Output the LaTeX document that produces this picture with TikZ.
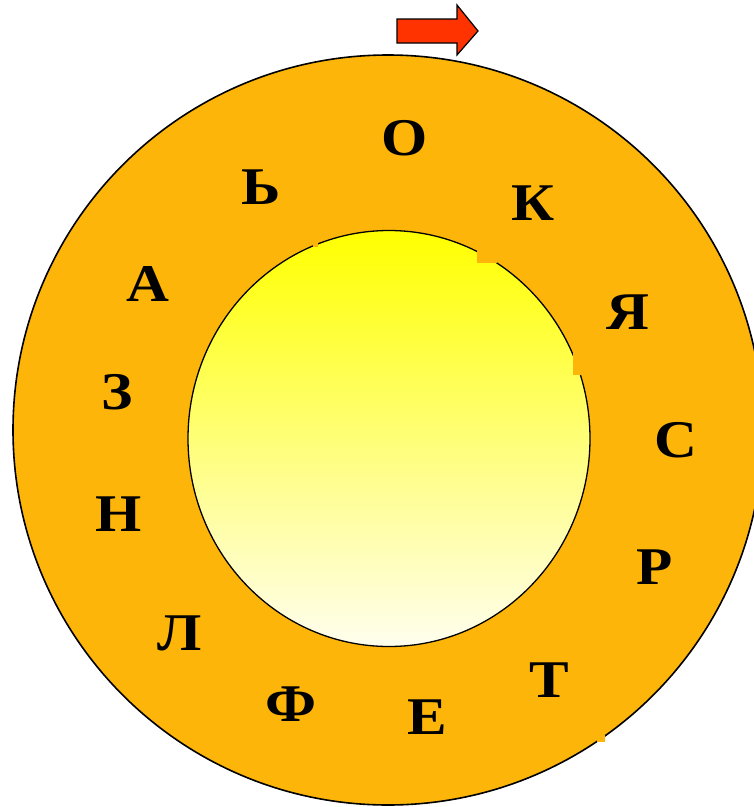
\documentclass[tikz,border=0pt]{standalone}
\usepackage{fontspec}
\setmainfont{Liberation Serif}
\definecolor{ringorange}{RGB}{253,181,10}
\definecolor{arrowred}{RGB}{255,51,0}
\definecolor{sunyellow}{RGB}{255,255,0}
\definecolor{sunpale}{RGB}{255,254,238}
\begin{document}
\begin{tikzpicture}[x=1pt,y=-1pt,
  letter/.style={anchor=base,inner sep=0pt,xscale=1.12,font=\fontsize{53}{53}\selectfont\bfseries},
  ringstyle/.style={fill=ringorange,draw=black,line width=1.6pt},
  sunstyle/.style={top color=sunyellow,bottom color=sunpale,draw=black,line width=1.3pt},
  patch/.style={fill=ringorange,draw=none}]
\useasboundingbox (0,0) rectangle (754,807);
% outer ring
\draw[ringstyle] (388,430) circle [radius=375];
% inner disc
\draw[sunstyle] (389,438.5) ellipse [x radius=201, y radius=208];
% small orange patches over the edges
\fill[patch] (477,249) rectangle (497,263);
\fill[patch] (573,350) rectangle (584,375);
\fill[patch] (313,238) rectangle (318,247);
\fill[patch] (597,735) rectangle (605,742);
% arrow
\draw[fill=arrowred,draw=black,line width=1.2pt,line join=miter]
  (397,19) -- (457,19) -- (457,5) -- (478,31) -- (457,55) -- (457,43) -- (397,43) -- cycle;
% letters
\node[letter] (o)  at (405,155) {О};
\node[letter] (k)  at (533,220) {К};
\node[letter] (ya) at (628,329) {Я};
\node[letter] (s)  at (676,457) {С};
\node[letter] (r)  at (655,584) {Р};
\node[letter] (t)  at (549,697) {Т};
\node[letter] (e)  at (427,734) {Е};
\node[letter] (f)  at (291,721) {Ф};
\node[letter] (l)  at (180,650) {Л};
\node[letter] (n)  at (119,531) {Н};
\node[letter] (z)  at (117,409) {З};
\node[letter] (a)  at (148,301) {А};
\node[letter] (mz) at (261,204) {Ь};
\end{tikzpicture}
\end{document}
